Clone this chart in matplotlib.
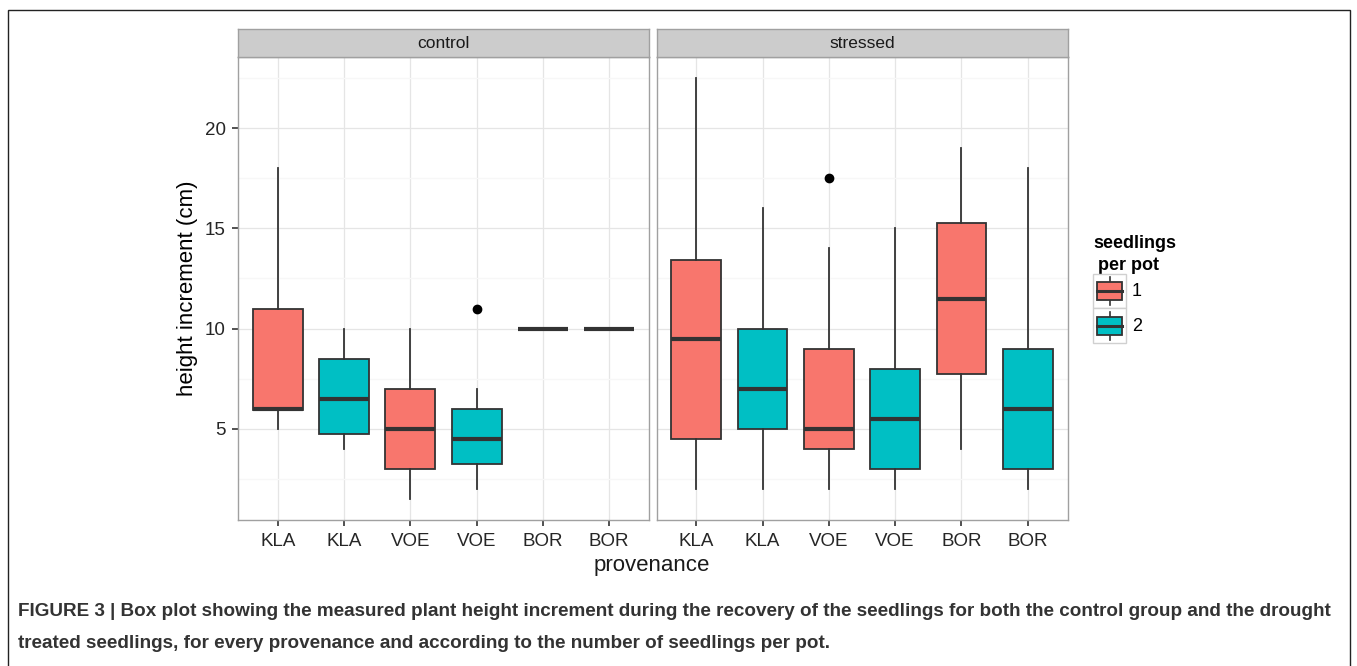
import matplotlib.pyplot as plt
from matplotlib.patches import Rectangle
from matplotlib.lines import Line2D
from matplotlib.legend_handler import HandlerBase

plt.rcParams['font.family'] = ['Liberation Sans', 'DejaVu Sans']

# data: one box per provenance x seedlings-per-pot
provenance = ['KLA', 'KLA', 'VOE', 'VOE', 'BOR', 'BOR']
seedlings = [1, 2, 1, 2, 1, 2]
facets = ['control', 'stressed']

control_whislo = [5.0, 4.0, 1.5, 2.0, 10.0, 10.0]
control_q1 = [5.95, 4.75, 3.0, 3.25, 10.0, 10.0]
control_med = [6.0, 6.5, 5.0, 4.5, 10.0, 10.0]
control_q3 = [11.0, 8.5, 7.0, 6.0, 10.0, 10.0]
control_whishi = [18.0, 10.0, 10.0, 7.0, 10.0, 10.0]
control_fliers = [[], [], [], [11.0], [], []]

stressed_whislo = [2.0, 2.0, 2.0, 2.0, 4.0, 2.0]
stressed_q1 = [4.5, 5.0, 4.0, 3.0, 7.75, 3.0]
stressed_med = [9.5, 7.0, 5.0, 5.5, 11.5, 6.0]
stressed_q3 = [13.4, 10.0, 9.0, 8.0, 15.25, 9.0]
stressed_whishi = [22.5, 16.0, 14.0, 15.0, 19.0, 18.0]
stressed_fliers = [[], [], [17.5], [], [], []]

fill_colors = {1: '#F8766D', 2: '#00BFC4'}
EDGE = '#333333'


def make_stats(lo, q1, med, q3, hi, fl):
    return [dict(whislo=a, q1=b, med=c, q3=d, whishi=e, fliers=f)
            for a, b, c, d, e, f in zip(lo, q1, med, q3, hi, fl)]


panel_stats = {
    'control': make_stats(control_whislo, control_q1, control_med,
                          control_q3, control_whishi, control_fliers),
    'stressed': make_stats(stressed_whislo, stressed_q1, stressed_med,
                           stressed_q3, stressed_whishi, stressed_fliers),
}

W, H = 1357, 666
fig = plt.figure(figsize=(W / 100, H / 100), dpi=100)

# outer frame around figure + caption
fig.patches.append(Rectangle((8 / W, -0.05), (1350 - 8) / W, 1.05 - 10 / H,
                             transform=fig.transFigure, fill=False,
                             ec='#222222', lw=1.0))

panel_x = [(238, 649), (656.5, 1067.5)]
p_top, p_bot = 57, 520
strip_top = 29
positions = list(range(1, len(provenance) + 1))

for i, name in enumerate(facets):
    x0, x1 = panel_x[i]
    ax = fig.add_axes([x0 / W, 1 - p_bot / H, (x1 - x0) / W, (p_bot - p_top) / H])
    ax.set_axisbelow(True)
    bp = ax.bxp(panel_stats[name], positions=positions, widths=0.75,
                patch_artist=True, showcaps=False,
                boxprops=dict(edgecolor=EDGE, linewidth=1.3),
                medianprops=dict(color=EDGE, linewidth=3),
                whiskerprops=dict(color=EDGE, linewidth=1.3),
                flierprops=dict(marker='o', markerfacecolor='black',
                                markeredgecolor='black', markersize=6))
    for box, s in zip(bp['boxes'], seedlings):
        box.set_facecolor(fill_colors[s])

    ax.set_xlim(0.4, len(provenance) + 0.6)
    ax.set_ylim(0.45, 23.55)
    ax.set_xticks(positions)
    ax.set_xticklabels(provenance)
    ax.set_yticks([5, 10, 15, 20])
    ax.set_yticks([2.5, 7.5, 12.5, 17.5, 22.5], minor=True)
    ax.grid(which='major', color='#E5E5E5', linewidth=0.9)
    ax.grid(which='minor', axis='y', color='#F7F7F7', linewidth=0.9)
    ax.tick_params(which='major', length=4, width=1.2, color=EDGE,
                   labelsize=13.5, labelcolor='#262626', pad=5)
    ax.tick_params(which='minor', length=0)
    for sp in ax.spines.values():
        sp.set_color('#A0A0A0')
        sp.set_linewidth(1.0)
    if i == 0:
        ax.set_ylabel('height increment (cm)', fontsize=16, labelpad=5)
    else:
        ax.tick_params(axis='y', which='both', left=False, labelleft=False)

    # facet strip
    sax = fig.add_axes([x0 / W, 1 - p_top / H, (x1 - x0) / W, (p_top - strip_top) / H])
    sax.set_facecolor('#CCCCCC')
    sax.set_xticks([])
    sax.set_yticks([])
    for sp in sax.spines.values():
        sp.set_color('#A0A0A0')
        sp.set_linewidth(1.0)
    sax.text(0.5, 0.5, name, ha='center', va='center', fontsize=12.5,
             color='#1A1A1A', transform=sax.transAxes)

fig.text(652 / W, 1 - 566 / H, 'provenance', ha='center', va='center',
         fontsize=16, color='#1A1A1A')


class BoxKeyHandler(HandlerBase):
    def create_artists(self, legend, orig_handle, xdescent, ydescent,
                       width, height, fontsize, trans):
        x0, y0 = -xdescent, -ydescent
        cx = x0 + width / 2
        bg = Rectangle((x0, y0), width, height, fc='white', ec='#D0D0D0',
                       lw=1.0, transform=trans)
        wh = Line2D([cx, cx], [y0 + 0.1 * height, y0 + 0.9 * height],
                    color=EDGE, lw=1.2, transform=trans)
        bx = Rectangle((x0 + 0.13 * width, y0 + 0.24 * height), 0.74 * width,
                       0.52 * height, fc=orig_handle.get_facecolor(), ec=EDGE,
                       lw=1.3, transform=trans)
        md = Line2D([x0 + 0.13 * width, x0 + 0.87 * width],
                    [y0 + 0.5 * height] * 2, color=EDGE, lw=2.2,
                    transform=trans)
        return [bg, wh, bx, md]


handles = [Rectangle((0, 0), 1, 1, fc=fill_colors[k]) for k in (1, 2)]
leg = fig.legend(handles, ['1', '2'], title='seedlings\n per pot',
                 loc='upper left', bbox_to_anchor=(1093 / W, 1 - 235 / H),
                 frameon=False, fontsize=13, title_fontsize=13,
                 handler_map={Rectangle: BoxKeyHandler()},
                 handlelength=1.85, handleheight=2.6, labelspacing=0.0,
                 handletextpad=0.3, borderpad=0, borderaxespad=0,
                 alignment='left')
leg.get_title().set_fontweight('bold')
leg.get_title().set_linespacing(1.35)

caption1 = ('FIGURE 3 | Box plot showing the measured plant height increment during the '
            'recovery of the seedlings for both the control group and the drought')
caption2 = ('treated seedlings, for every provenance and according to the number of '
            'seedlings per pot.')
fig.text(18 / W, 1 - 612 / H, caption1, ha='left', va='center', fontsize=13.6,
         fontweight='bold', color='#333333')
fig.text(18 / W, 1 - 643 / H, caption2, ha='left', va='center', fontsize=13.6,
         fontweight='bold', color='#333333')

fig.savefig('out.png', dpi=100)
